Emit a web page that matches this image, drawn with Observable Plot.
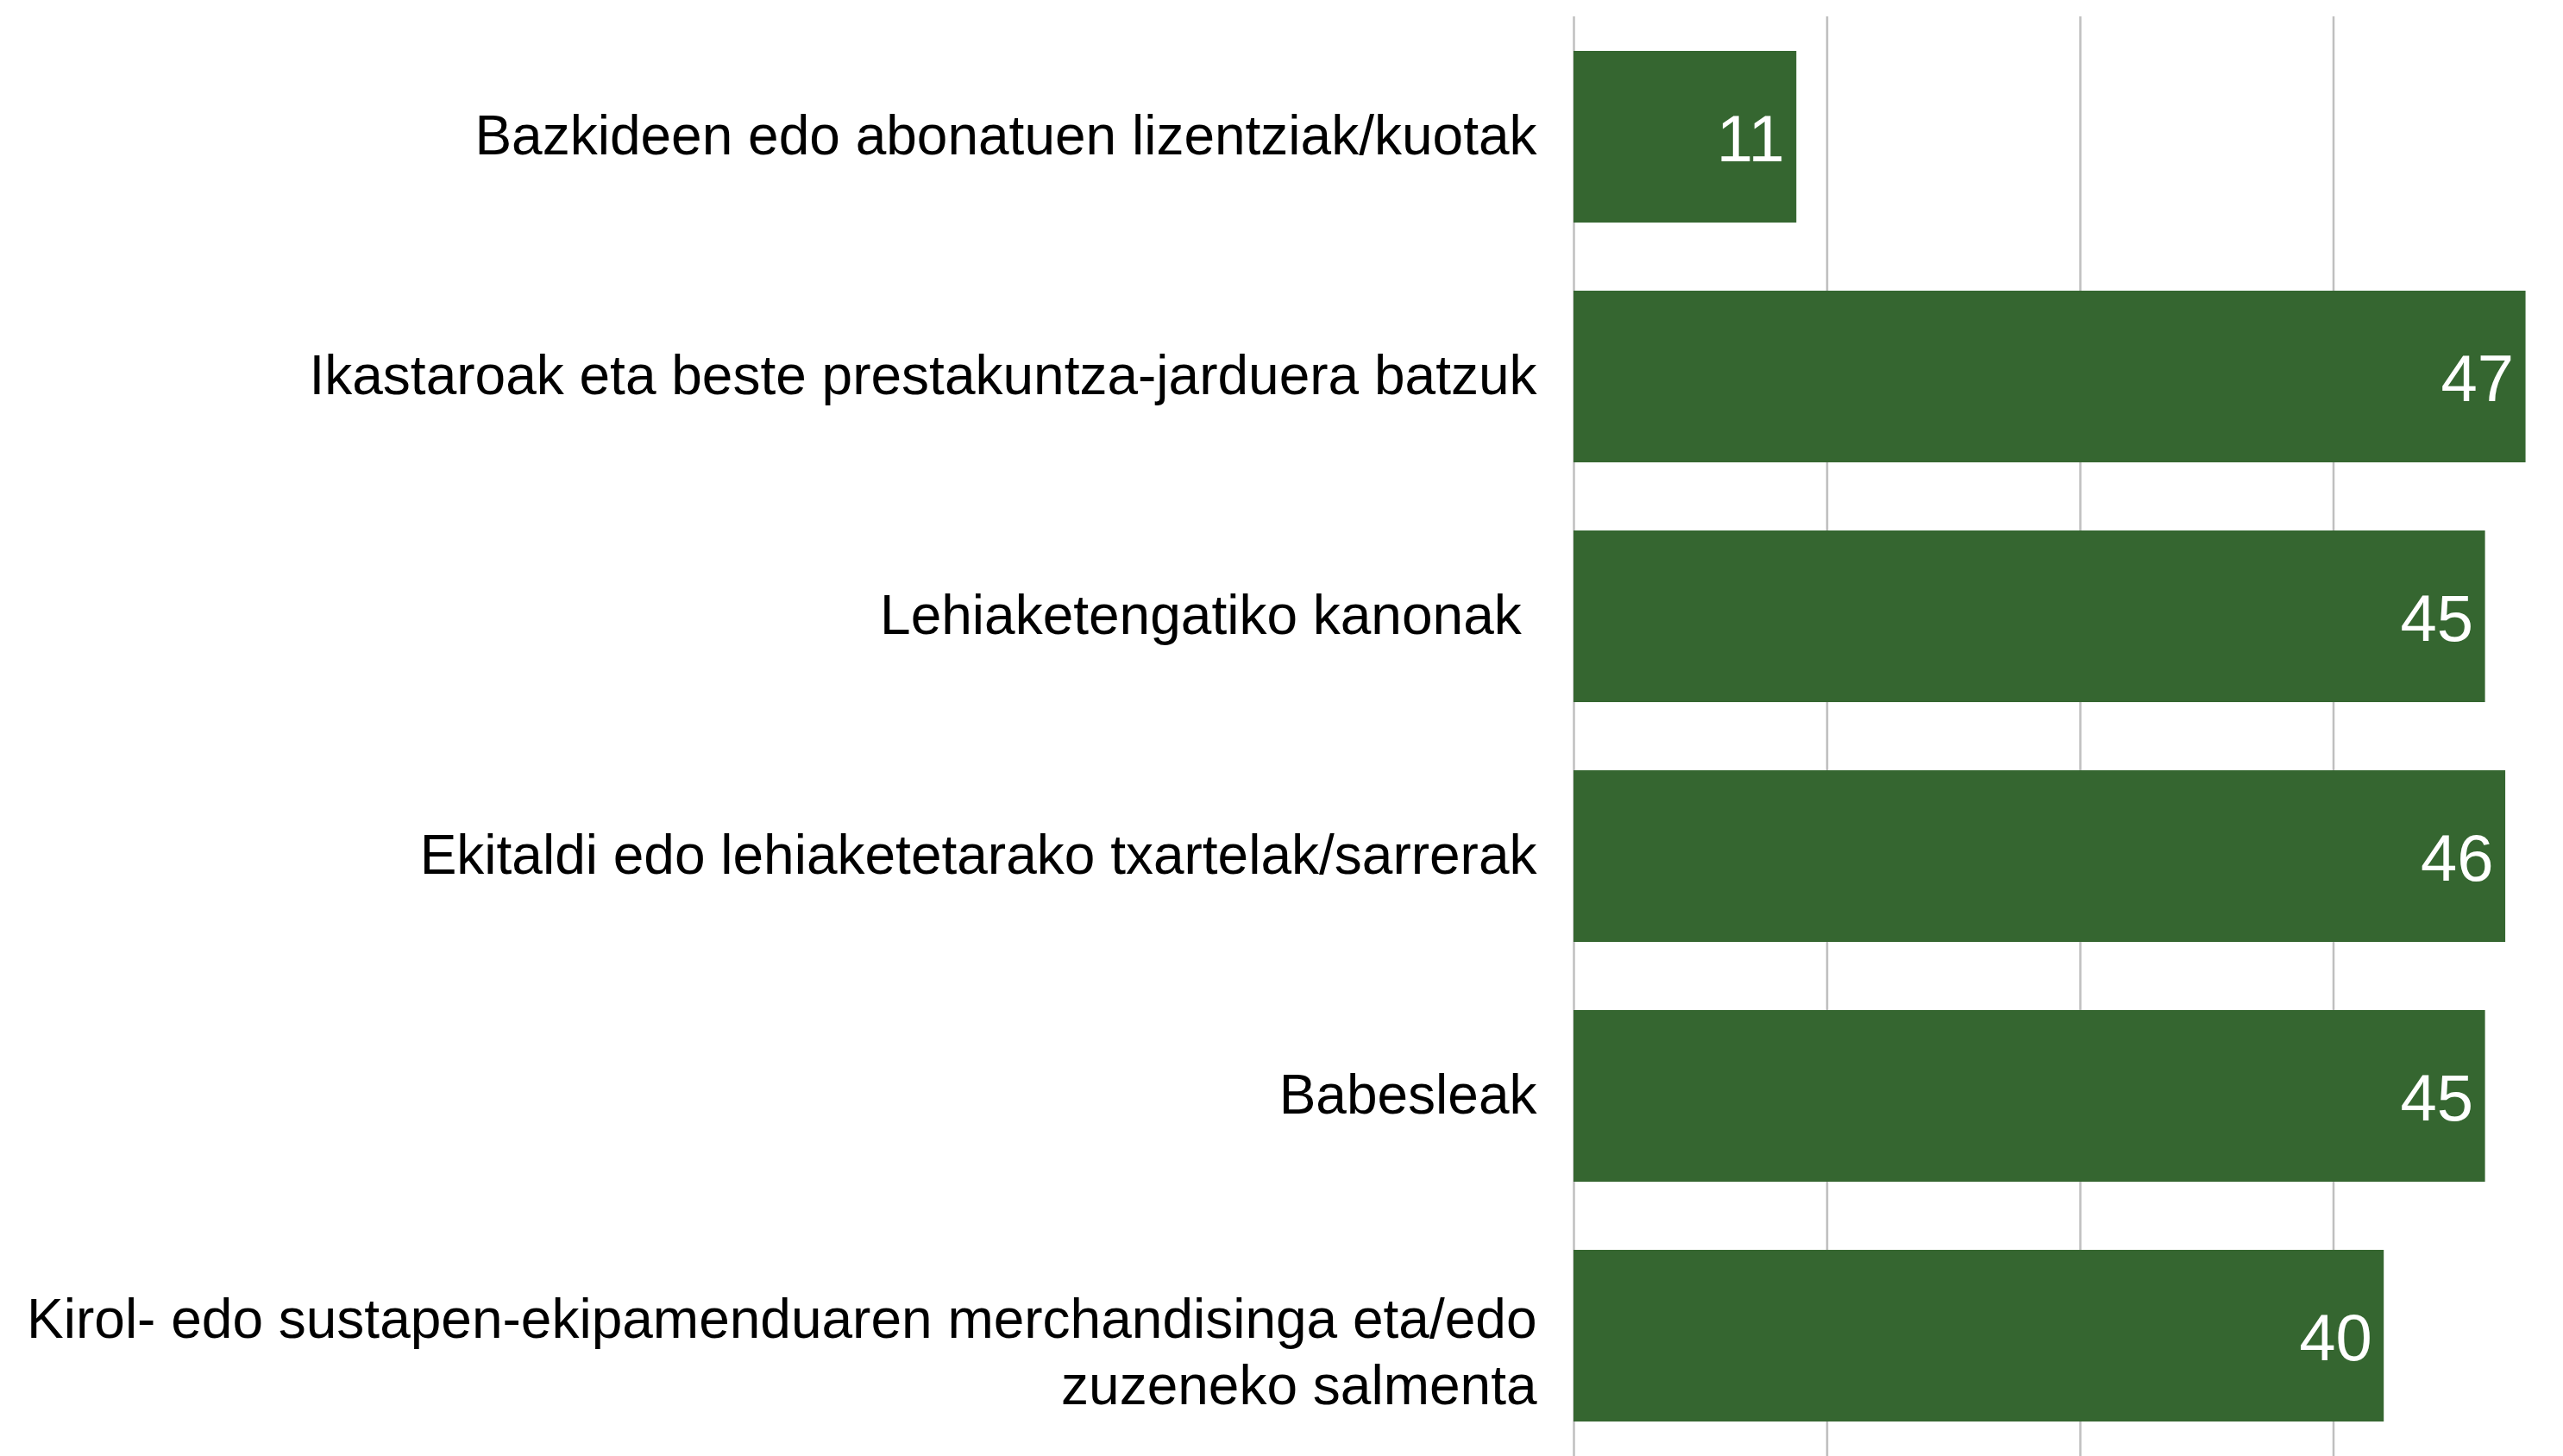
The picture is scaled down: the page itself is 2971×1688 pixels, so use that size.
<!DOCTYPE html>
<html>
<head>
<meta charset="utf-8">
<script src="https://cdn.jsdelivr.net/npm/d3@7"></script>
<script src="https://cdn.jsdelivr.net/npm/@observablehq/plot@0.6"></script>
<style>
  html, body { margin: 0; padding: 0; background: #ffffff; }
  #chart svg { display: block; }
</style>
</head>
<body>
<div id="chart"></div>
<script>
const categories = [
  "Bazkideen edo abonatuen lizentziak/kuotak",
  "Ikastaroak eta beste prestakuntza-jarduera batzuk",
  "Lehiaketengatiko kanonak ",
  "Ekitaldi edo lehiaketetarako txartelak/sarrerak",
  "Babesleak",
  "Kirol- edo sustapen-ekipamenduaren merchandisinga eta/edo\nzuzeneko salmenta"
];
const values = [11, 47, 45, 46, 45, 40];
const gridTicks = [0, 12.5, 25, 37.5, 50];

const data = categories.map((c, i) => ({category: c, value: values[i]}));
const singleLine = data.filter(d => !d.category.includes("\n"));
const multiLine = data.filter(d => d.category.includes("\n"));

const chart = Plot.plot({
  width: 2971,
  height: 1688,
  marginTop: 19,
  marginBottom: 0,
  marginLeft: 1824,
  marginRight: 0,
  style: {fontFamily: "'Liberation Sans', Arial, sans-serif", background: "#ffffff"},
  x: {domain: [0, 50], range: [1824, 2998], axis: null},
  y: {domain: categories, paddingInner: 0.284, paddingOuter: 0.142, axis: null},
  marks: [
    Plot.ruleX(gridTicks, {x: d => d, stroke: "#bfbfbf", strokeWidth: 2.5}),
    Plot.barX(data, {x: "value", y: "category", fill: "#356630"}),
    Plot.text(data, {
      x: "value", y: "category", text: d => String(d.value),
      textAnchor: "end", dx: -14, dy: 4, fill: "#ffffff", fontSize: 76
    }),
    Plot.text(singleLine, {
      x: 0, y: "category", text: "category",
      textAnchor: "end", dx: -43, dy: 0, fill: "#000000", fontSize: 64
    }),
    Plot.text(multiLine, {
      x: 0, y: "category", text: "category",
      textAnchor: "end", dx: -43, dy: 16, fill: "#000000", fontSize: 64, lineHeight: 1.2
    })
  ]
});
document.getElementById("chart").appendChild(chart);
</script>
</body>
</html>
